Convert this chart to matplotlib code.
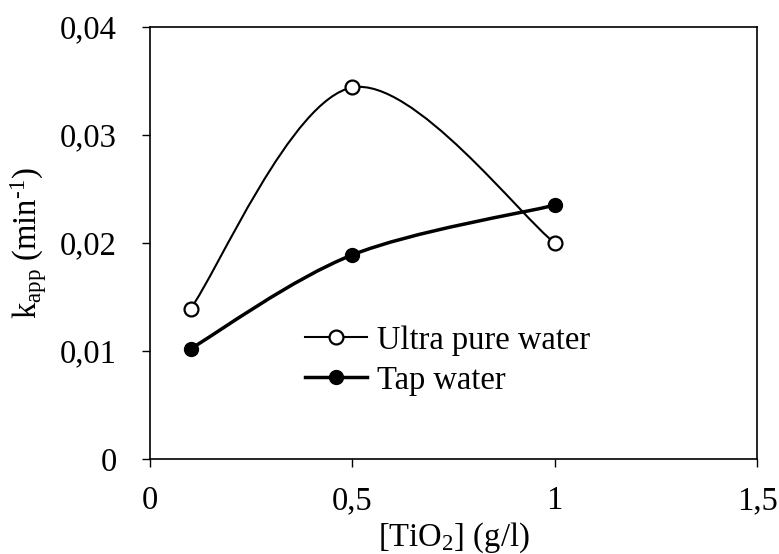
import numpy as np
import matplotlib
matplotlib.use("Agg")
from matplotlib import pyplot as plt
from matplotlib.path import Path
from matplotlib.patches import PathPatch
from matplotlib.lines import Line2D
from matplotlib.ticker import FuncFormatter

# data
tio2 = [0.1, 0.5, 1.0]
ultra_pure = [0.0139, 0.0344, 0.0200]
tap = [0.0102, 0.0189, 0.0235]

x_ticks = [0, 0.5, 1, 1.5]
y_ticks = [0, 0.01, 0.02, 0.03, 0.04]

plt.rcParams["font.family"] = ["Liberation Serif", "DejaVu Serif"]
plt.rcParams["mathtext.fontset"] = "custom"
plt.rcParams["mathtext.rm"] = "Liberation Serif"
plt.rcParams["mathtext.it"] = "Liberation Serif"
FS = 23.5


def smooth_path(xs, ys):
    """Excel-like smoothed line (Catmull-Rom as cubic Bezier)."""
    pts = np.column_stack([xs, ys])
    ext = np.vstack([pts[0], pts, pts[-1]])
    verts = [pts[0]]
    codes = [Path.MOVETO]
    for i in range(1, len(ext) - 2):
        p0, p1, p2, p3 = ext[i - 1], ext[i], ext[i + 1], ext[i + 2]
        c1 = p1 + (p2 - p0) / 6
        c2 = p2 - (p3 - p1) / 6
        verts += [c1, c2, p2]
        codes += [Path.CURVE4] * 3
    return Path(verts, codes)


fig = plt.figure(figsize=(7.79, 5.54), dpi=100)
ax = fig.add_axes([0.1926, 0.1715, 0.7792, 0.7798])

ax.add_patch(PathPatch(smooth_path(tio2, ultra_pure), fill=False, lw=1.5, color="black", zorder=2))
ax.add_patch(PathPatch(smooth_path(tio2, tap), fill=False, lw=2.5, color="black", zorder=2))
ax.plot(tio2, ultra_pure, ls="none", marker="o", ms=10, mfc="white", mec="black", mew=1.6, zorder=3)
ax.plot(tio2, tap, ls="none", marker="o", ms=10, mfc="black", mec="black", zorder=3)

ax.set_xlim(0, 1.5)
ax.set_ylim(0, 0.04)
ax.set_xticks(x_ticks)
ax.set_yticks(y_ticks)
comma = FuncFormatter(lambda v, p: f"{v:g}".replace(".", ","))
ax.xaxis.set_major_formatter(comma)
ax.yaxis.set_major_formatter(comma)
ax.tick_params(direction="out", length=6, width=1, labelsize=FS)
ax.tick_params(axis="y", pad=18)
ax.tick_params(axis="x", pad=13)
for s in ax.spines.values():
    s.set_linewidth(1.2)

ax.set_xlabel(r"[TiO$_2$] (g/l)", fontsize=FS, labelpad=3)
ax.set_ylabel(r"k$_{\rm app}$ (min$^{\text{-1}}$)", fontsize=FS, labelpad=8)

handles = [
    Line2D([], [], color="black", lw=1.5, marker="o", ms=10, mfc="white", mec="black", mew=1.6),
    Line2D([], [], color="black", lw=2.5, marker="o", ms=10, mfc="black", mec="black"),
]
ax.legend(handles, ["Ultra pure water", "Tap water"], loc="upper left",
          bbox_to_anchor=(0.255, 0.31), frameon=False, fontsize=FS,
          handlelength=1.9, handletextpad=0.3, labelspacing=0.3,
          borderpad=0, borderaxespad=0)

fig.savefig("out.png", dpi=100)
